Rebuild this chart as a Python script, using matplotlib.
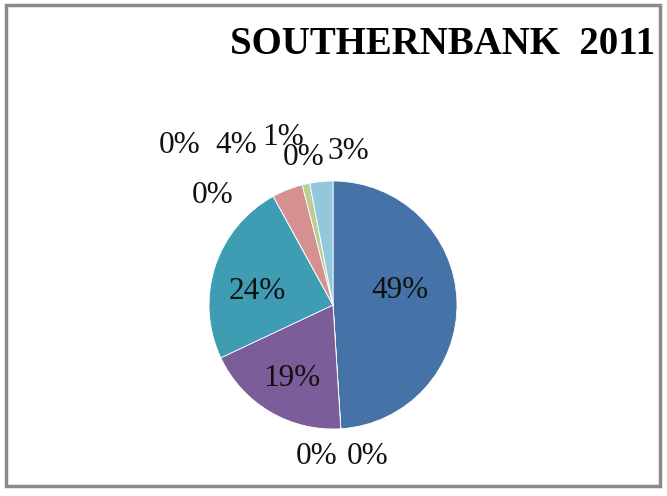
import matplotlib.pyplot as plt
from matplotlib.patches import Rectangle

# 11 series, clockwise from 12 o'clock
values = [49, 0, 0, 19, 24, 0, 0, 4, 1, 0, 3]
colors = ['#4573A8', '#BE4B48', '#98B954', '#7B5E99', '#3E9CB3', '#F69240',
          '#2C4D75', '#D4918F', '#B9CF97', '#A99CC4', '#93C8DB']
labels = [f"{v}%" for v in values]

# label positions (pie data units, radius = 1)
label_pos = [(0.54, 0.12), (-0.13, -1.22), (0.28, -1.22), (-0.33, -0.59),
             (-0.61, 0.11), (-0.97, 0.88), (-1.24, 1.29), (-0.78, 1.29),
             (-0.40, 1.35), (-0.24, 1.19), (0.12, 1.24)]

plt.rcParams['font.family'] = ['Liberation Serif', 'DejaVu Serif']

fig = plt.figure(figsize=(6.67, 4.96), dpi=100)

# grey chart frame
fig.patches.append(Rectangle((5.5 / 667, 10.5 / 496), 654 / 667, 481 / 496,
                             transform=fig.transFigure, fill=False,
                             edgecolor='#8a8a8a', linewidth=2.5))

cx, cy, r = 333, 305, 124
ax = fig.add_axes([(cx - r) / 667, (496 - cy - r) / 496, 2 * r / 667, 2 * r / 496])
ax.pie(values, colors=colors, startangle=90, counterclock=False, radius=1,
       wedgeprops=dict(edgecolor='white', linewidth=0.6))
ax.set_xlim(-1, 1)
ax.set_ylim(-1, 1)
ax.set_aspect('equal')
ax.axis('off')

for txt, (x, y) in zip(labels, label_pos):
    ax.text(x, y, txt, ha='center', va='center', fontsize=22.5, color='#111111',
            clip_on=False)

fig.text(655 / 667, 1 - 44 / 496, 'SOUTHERNBANK  2011', ha='right', va='center',
         fontsize=28, fontweight='bold', color='black')

fig.savefig('out.png', dpi=100)
